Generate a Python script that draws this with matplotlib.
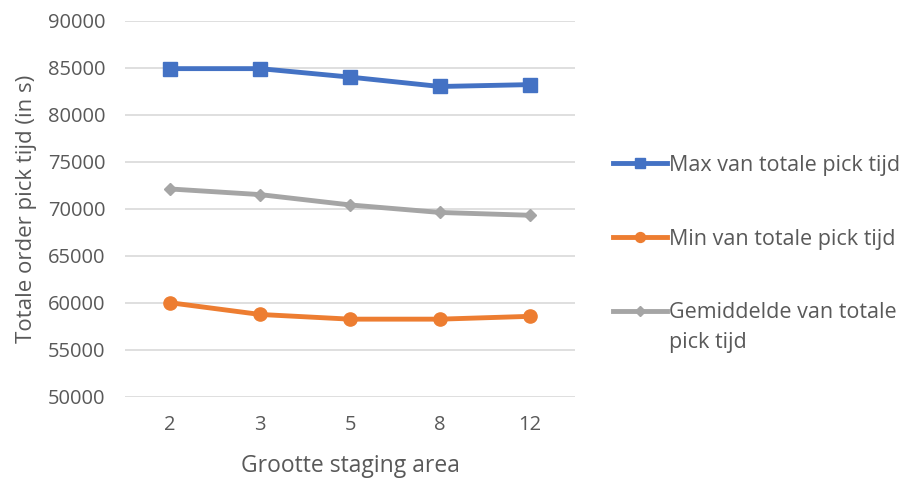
import matplotlib
matplotlib.use("Agg")
import matplotlib.pyplot as plt

plt.rcParams['font.family'] = ['Open Sans', 'DejaVu Sans']

categorieen = ["2", "3", "5", "8", "12"]
max_tijd = [84900, 84900, 84000, 83000, 83200]
min_tijd = [60000, 58750, 58250, 58250, 58550]
gem_tijd = [72100, 71500, 70400, 69600, 69300]

tekst = "#595959"

fig = plt.figure(figsize=(9.03, 4.79), dpi=100)
ax = fig.add_axes([0.1384, 0.1718, 0.4984, 0.785])

x = range(len(categorieen))
l1, = ax.plot(x, max_tijd, color="#4472C4", lw=3.5, marker="s", ms=10.5)
l2, = ax.plot(x, min_tijd, color="#ED7D31", lw=3.5, marker="o", ms=9.5)
l3, = ax.plot(x, gem_tijd, color="#A5A5A5", lw=3.5, marker="D", ms=6.5)

ax.set_xlim(-0.5, 4.5)
ax.set_ylim(50000, 90000)
ax.set_yticks(range(50000, 90001, 5000))
ax.set_xticks(list(x))
ax.set_xticklabels(categorieen)
ax.grid(axis="y", color="#D9D9D9", lw=1.2)
ax.set_axisbelow(True)
for s in ax.spines.values():
    s.set_visible(False)
ax.tick_params(length=0, colors=tekst, labelsize=14.5)
ax.tick_params(axis="y", pad=14)
ax.tick_params(axis="x", pad=13)

ax.set_ylabel("Totale order pick tijd (in s)", color=tekst, fontsize=16, labelpad=8)
ax.set_xlabel("Grootte staging area", color=tekst, fontsize=16.5, labelpad=14)

leg = fig.legend([l1, l2, l3],
                 ["Max van totale pick tijd", "Min van totale pick tijd",
                  "Gemiddelde van totale"],
                 loc="upper left", bbox_to_anchor=(0.667, 0.699), frameon=False,
                 fontsize=15.5, handlelength=2.5, handletextpad=0.1,
                 labelspacing=2.45, markerscale=0.75, borderpad=0)
for t in leg.get_texts():
    t.set_color(tekst)

# tweede regel van het laatste label, zoals in Excel onder de eerste regel
fig.canvas.draw()
ax.annotate("pick tijd", xy=(0, 0), xycoords=leg.get_texts()[2],
            xytext=(0, -6), textcoords="offset points", va="top", ha="left",
            fontsize=15.5, color=tekst)

fig.savefig("out.png", dpi=100)
